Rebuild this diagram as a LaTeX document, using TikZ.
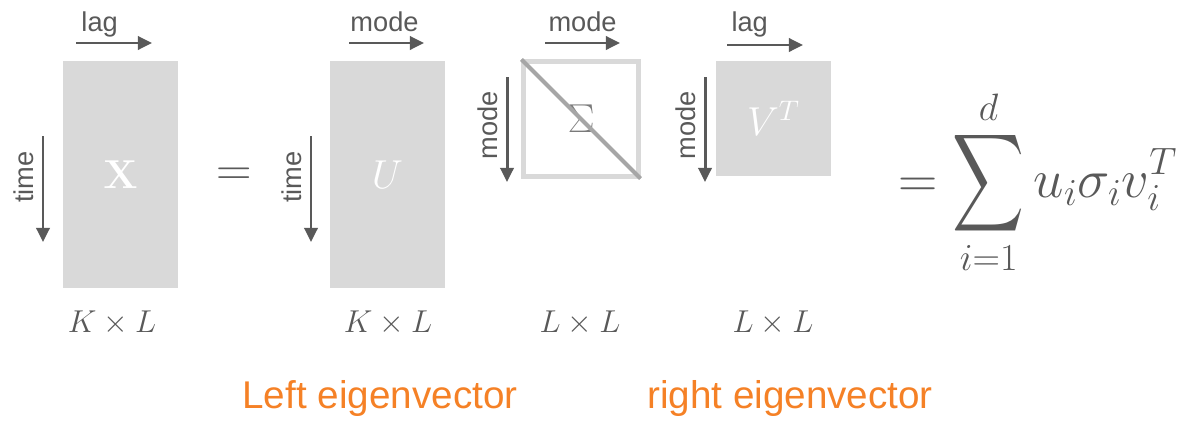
\RequirePackage{fix-cm}
\documentclass[tikz,border=0pt]{standalone}
\usepackage{exscale}
\usepackage[no-math]{fontspec}
\setmainfont{Liberation Sans}
\usetikzlibrary{arrows.meta, positioning}
\definecolor{matgray}{HTML}{D9D9D9}
\definecolor{diaggray}{HTML}{A6A6A6}
\definecolor{inkgray}{HTML}{595959}
\definecolor{sigmagray}{HTML}{7A7A7A}
\definecolor{eigorange}{HTML}{F58126}
\newcommand{\bigsum}{\mathop{\vcenter{\hbox{\scalebox{1.14}[1.56]{$\displaystyle\sum$}}}}\limits}

\begin{document}
\begin{tikzpicture}[x=0.02cm, y=-0.02cm,
    matbox/.style={rectangle, fill=matgray, inner sep=0pt, minimum width=2.3cm, text=white, font=\fontsize{23}{27}\selectfont},
    diagbox/.style={rectangle, draw=matgray, line width=2.3pt, inner sep=0pt, minimum width=2.3cm, minimum height=2.3cm, text=sigmagray, font=\fontsize{23}{27}\selectfont},
    axis/.style={draw=inkgray, line width=1.7pt, -{Triangle[length=8pt, width=7.5pt]}},
    axislabel/.style={text=inkgray, font=\fontsize{15.5}{18}\selectfont, inner sep=0pt},
    dimlabel/.style={text=inkgray, font=\fontsize{18}{22}\selectfont},
    eiglabel/.style={text=eigorange, font=\fontsize{22}{26}\selectfont}]
\useasboundingbox (0,0) rectangle (1189,420);

% matrices
\node (X) [matbox, minimum height=4.54cm] at (120.5,174.5) {$\mathbf{X}$};
\node (U) [matbox, minimum height=4.54cm] at (387.5,174.5) {$U$};
\node (S) [diagbox] at (581,119) {$\Sigma$};
\draw [diaggray, line width=2.3pt] (S.north west) -- (S.south east);
\node (VT) [matbox, minimum height=2.3cm] at (773.5,118.5) {$V^T$};

% axis arrows
\coordinate (xlag0) at (76,43);   \coordinate (xlag1) at (152,43);
\coordinate (xtime0) at (43,136); \coordinate (xtime1) at (43,242);
\coordinate (umode0) at (349,43); \coordinate (umode1) at (424,43);
\coordinate (utime0) at (311,136); \coordinate (utime1) at (311,242);
\coordinate (smode0) at (545,43); \coordinate (smode1) at (620,43);
\coordinate (srow0) at (507,77);  \coordinate (srow1) at (507,182);
\coordinate (vlag0) at (727,45);  \coordinate (vlag1) at (803,45);
\coordinate (vrow0) at (705,77);  \coordinate (vrow1) at (705,182);

\draw [axis] (xlag0) -- node[axislabel, pos=0, shift={(4,-12)}, anchor=base west] {lag} (xlag1);
\draw [axis] (xtime0) -- node[axislabel, pos=0, shift={(-10,14)}, rotate=90, anchor=base east] {time} (xtime1);
\draw [axis] (umode0) -- node[axislabel, pos=0, shift={(0,-12)}, anchor=base west] {mode} (umode1);
\draw [axis] (utime0) -- node[axislabel, pos=0, shift={(-10,14)}, rotate=90, anchor=base east] {time} (utime1);
\draw [axis] (smode0) -- node[axislabel, pos=0, shift={(2,-12)}, anchor=base west] {mode} (smode1);
\draw [axis] (srow0) -- node[axislabel, pos=0, shift={(-10,13)}, rotate=90, anchor=base east] {mode} (srow1);
\draw [axis] (vlag0) -- node[axislabel, pos=0, shift={(3,-14)}, anchor=base west] {lag} (vlag1);
\draw [axis] (vrow0) -- node[axislabel, pos=0, shift={(-10,13)}, rotate=90, anchor=base east] {mode} (vrow1);

% sizes
\node (dimX) [dimlabel, anchor=base] at (112,332) {$K\times L$};
\node (dimU) [dimlabel, anchor=base] at (388,332) {$K\times L$};
\node (dimS) [dimlabel, anchor=base] at (580,332) {$L\times L$};
\node (dimV) [dimlabel, anchor=base] at (773,332) {$L\times L$};

% equations
\node (eq) [text=inkgray, font=\fontsize{28}{32}\selectfont] at (234,177) {$=$};
\node (sum) [text=inkgray, font=\fontsize{31}{36}\selectfont, anchor=base west, inner sep=0pt] at (898,197)
    {$\displaystyle=\bigsum_{i=1}^{d}u_i\sigma_i v_i^T$};

% labels
\node (left) [eiglabel, anchor=base] at (380,408) {Left eigenvector};
\node (right) [eiglabel, anchor=base] at (790,408) {right eigenvector};
\end{tikzpicture}
\end{document}
